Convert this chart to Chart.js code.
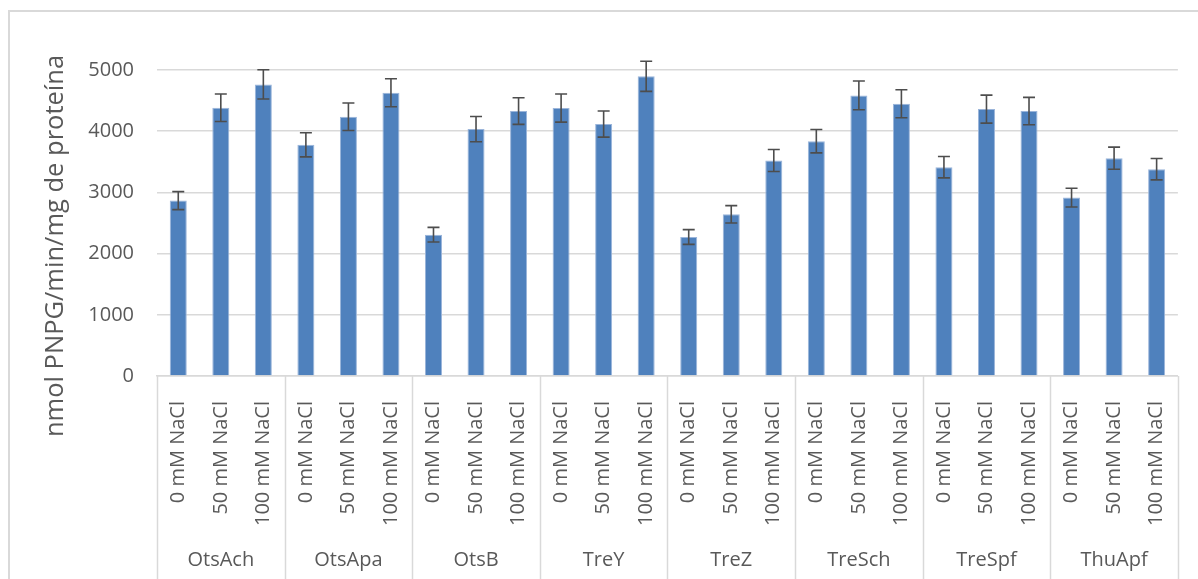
<!DOCTYPE html>
<html>
<head>
<meta charset="utf-8">
<script src="https://cdn.jsdelivr.net/npm/chart.js@4"></script>
<style>
  html, body { margin: 0; padding: 0; background: #fff; overflow: hidden; }
  #wrap { position: relative; width: 1198px; height: 579px; }
  #marco { position: absolute; left: 8px; top: 10px; width: 1220px; height: 620px; border: 2px solid #d9d9d9; box-sizing: border-box; pointer-events: none; }
</style>
</head>
<body>
<div id="wrap">
  <canvas id="myChart" width="1198" height="579"></canvas>
  <div id="marco"></div>
</div>
<script>
// datos
var grupos = ['OtsAch', 'OtsApa', 'OtsB', 'TreY', 'TreZ', 'TreSch', 'TreSpf', 'ThuApf'];
var sales = ['0 mM NaCl', '50 mM NaCl', '100 mM NaCl'];
var valores = [2866, 4383, 4765, 3777, 4236, 4629, 2309, 4034, 4329, 4378, 4116, 4896,
               2271, 2642, 3521, 3837, 4585, 4449, 3412, 4361, 4329, 2915, 3559, 3379];
var errores = [147, 225, 240, 197, 224, 229, 120, 207, 218, 229, 213, 246,
               120, 142, 180, 191, 235, 229, 175, 229, 224, 153, 180, 175];
var ticksY = [0, 1000, 2000, 3000, 4000, 5000];
var tituloY = 'nmol PNPG/min/mg de proteína';

var etiquetas = [];
grupos.forEach(function(g){ sales.forEach(function(s){ etiquetas.push(s); }); });

var gris = '#d9d9d9';
var texto = '#595959';
var fuente = "'Open Sans', sans-serif";

// barras de error
var barrasError = {
  id: 'barrasError',
  afterDatasetsDraw: function(chart){
    var c = chart.ctx;
    var y = chart.scales.y;
    var meta = chart.getDatasetMeta(0);
    c.save();
    c.strokeStyle = '#4d4d4d';
    c.lineWidth = 1.6;
    meta.data.forEach(function(bar, i){
      var arriba = y.getPixelForValue(valores[i] + errores[i]);
      var abajo = y.getPixelForValue(valores[i] - errores[i]);
      c.beginPath();
      c.moveTo(bar.x, arriba); c.lineTo(bar.x, abajo);
      c.moveTo(bar.x - 6, arriba); c.lineTo(bar.x + 6, arriba);
      c.moveTo(bar.x - 6, abajo); c.lineTo(bar.x + 6, abajo);
      c.stroke();
    });
    c.restore();
  }
};

// lineas que separan los grupos y titulo del eje y
var separadores = {
  id: 'separadores',
  afterDraw: function(chart){
    var c = chart.ctx;
    var x = chart.scales.x;
    c.save();
    c.strokeStyle = gris;
    c.lineWidth = 1.5;
    for (var i = 0; i <= grupos.length; i++) {
      var px = Math.round(x.getPixelForValue(i * sales.length - 0.5)) + 0.5;
      c.beginPath();
      c.moveTo(px, x.top);
      c.lineTo(px, chart.height);
      c.stroke();
    }
    c.translate(63, 246);
    c.rotate(-Math.PI / 2);
    c.fillStyle = texto;
    c.font = "25.5px 'Open Sans', sans-serif";
    c.textAlign = 'center';
    c.textBaseline = 'alphabetic';
    c.fillText(tituloY, 0, 0);
    c.restore();
  }
};

var ctx = document.getElementById('myChart');
var myChart = new Chart(ctx, {
  type: 'bar',
  data: {
    labels: etiquetas,
    datasets: [{
      label: tituloY,
      data: valores,
      backgroundColor: '#4f81bd',
      borderColor: '#9bb5da',
      borderWidth: 1,
      borderSkipped: 'bottom',
      categoryPercentage: 1,
      barPercentage: 0.4
    }]
  },
  options: {
    responsive: false,
    animation: false,
    layout: { padding: { left: 0, top: 70, right: 18, bottom: 0 } },
    plugins: {
      legend: { display: false },
      tooltip: { enabled: false }
    },
    scales: {
      y: {
        min: 0,
        max: 5000,
        afterBuildTicks: function(s){ s.ticks = ticksY.map(function(v){ return { value: v }; }); },
        afterFit: function(s){ s.width = 157; },
        border: { display: false },
        grid: { color: gris, lineWidth: 1.5, drawTicks: false },
        ticks: {
          color: texto,
          font: { family: fuente, size: 20 },
          padding: 23,
          callback: function(v){ return String(v); }
        }
      },
      x: {
        afterFit: function(s){ s.height = 154; },
        border: { display: true, color: gris, width: 1.5 },
        grid: { display: false },
        ticks: {
          color: texto,
          font: { family: fuente, size: 20 },
          minRotation: 90,
          maxRotation: 90,
          autoSkip: false,
          padding: 17
        }
      },
      x2: {
        type: 'category',
        labels: grupos,
        position: 'bottom',
        offset: true,
        afterFit: function(s){ s.height = 49; },
        border: { display: false },
        grid: { display: false },
        ticks: { color: texto, font: { family: fuente, size: 20 }, padding: 10 }
      }
    }
  },
  plugins: [barrasError, separadores]
});
</script>
</body>
</html>
